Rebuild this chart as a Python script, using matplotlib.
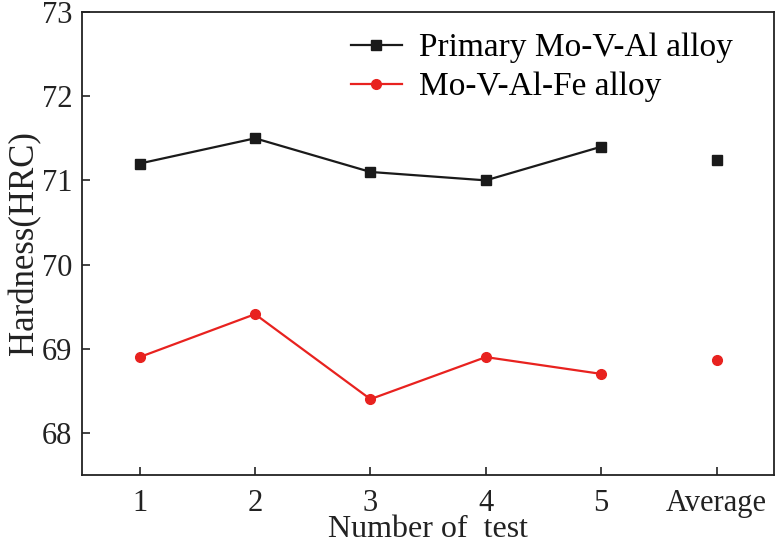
import matplotlib
matplotlib.use("Agg")
import matplotlib.pyplot as plt

tests = [1, 2, 3, 4, 5]
avg_pos = [6]
tick_labels = ["1", "2", "3", "4", "5", "Average"]
primary = [71.2, 71.5, 71.1, 71.0, 71.4]
primary_avg = [71.24]
fe_alloy = [68.9, 69.41, 68.4, 68.9, 68.7]
fe_avg = [68.87]

plt.rcParams['font.family'] = ['Liberation Serif', 'DejaVu Serif']

fig = plt.figure(figsize=(7.77, 5.49), dpi=100)
ax = fig.add_axes([0.1055, 0.135, 0.891, 0.843])

black = '#1a1a1a'
red = '#e8221f'
ax.plot(tests, primary, color=black, lw=1.6, marker='s', ms=7, label='Primary Mo-V-Al alloy')
ax.plot(avg_pos, primary_avg, color=black, lw=0, marker='s', ms=7)
ax.plot(tests, fe_alloy, color=red, lw=1.6, marker='o', ms=7, label='Mo-V-Al-Fe alloy')
ax.plot(avg_pos, fe_avg, color=red, lw=0, marker='o', ms=7)

ax.set_xlim(0.5, 6.5)
ax.set_ylim(67.5, 73)
ax.set_xticks(tests + avg_pos)
ax.set_xticklabels(tick_labels)
ax.set_yticks([68, 69, 70, 71, 72, 73])
ax.tick_params(direction='in', length=6, width=1.2, labelsize=22, colors='#222222')
ax.tick_params(axis='x', pad=10)
ax.tick_params(axis='y', pad=7)
for s in ax.spines.values():
    s.set_linewidth(1.3)
    s.set_color('#222222')

ax.set_xlabel('Number of  test', fontsize=23, color='#222222', labelpad=-2)
ax.set_ylabel('Hardness(HRC)', fontsize=25, color='#222222', labelpad=0)

leg = ax.legend(loc='upper left', frameon=False, fontsize=24, handlelength=1.55,
                handletextpad=0.5, borderaxespad=0.0, borderpad=0.0, labelspacing=0.25,
                bbox_to_anchor=(0.388, 0.955))

fig.savefig('out.png', dpi=100)
